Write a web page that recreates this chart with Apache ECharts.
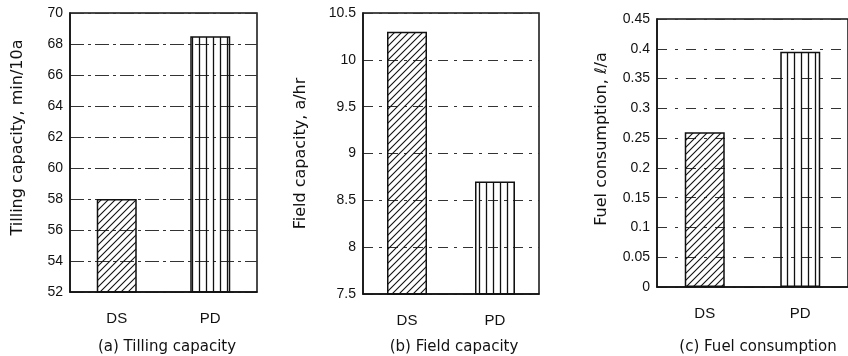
<!DOCTYPE html>
<html>
<head>
<meta charset="utf-8">
<script src="https://cdn.jsdelivr.net/npm/echarts@6/dist/echarts.min.js"></script>
<style>
  html, body { margin: 0; padding: 0; background: #fff; }
  #chart { width: 848px; height: 356px; }
</style>
</head>
<body>
<div id="chart"></div>
<script>
const categories = ["DS", "PD"];
const tillingCapacity = [58, 68.5];
const fieldCapacity = [10.3, 8.7];
const fuelConsumption = [0.26, 0.395];

const tillingTicks = { min: 52, max: 70, interval: 2 };
const fieldTicks = { min: 7.5, max: 10.5, interval: 0.5 };
const fuelTicks = { min: 0, max: 0.45, interval: 0.05 };

const FONT = "Liberation Sans, Arial, sans-serif";
const WIDE = "DejaVu Sans, sans-serif";
const INK = "#111";

// hatch fills: diagonal for DS, vertical stripes for PD
function makePattern(kind) {
  const c = document.createElement("canvas");
  const g = c.getContext("2d");
  if (kind === "diag") {
    c.width = 7;
    c.height = 7;
    g.strokeStyle = INK;
    g.lineWidth = 1.1;
    g.beginPath();
    g.moveTo(-1, 8); g.lineTo(8, -1);
    g.moveTo(-1, 1); g.lineTo(1, -1);
    g.moveTo(6, 8); g.lineTo(8, 6);
    g.stroke();
  } else {
    c.width = 7;
    c.height = 4;
    g.strokeStyle = INK;
    g.lineWidth = 1.3;
    g.beginPath();
    g.moveTo(3.5, 0); g.lineTo(3.5, 4);
    g.stroke();
  }
  return { image: c, repeat: "repeat" };
}

const diag = makePattern("diag");
const vert = makePattern("vert");

const panels = [
  {
    grid: { left: 70, top: 13, width: 187, height: 279 },
    ticks: tillingTicks,
    values: tillingCapacity,
    name: "Tilling capacity, min/10a",
    nameGap: 44,
    namePad: [0, 0, 0, 30],
    dash: [14, 4, 3, 4],
    title: "(a) Tilling capacity",
    titleX: 162,
  },
  {
    grid: { left: 363, top: 13, width: 176, height: 281 },
    ticks: fieldTicks,
    values: fieldCapacity,
    name: "Field capacity, a/hr",
    nameGap: 54,
    namePad: [0, 0, 0, 0],
    dash: [10, 6, 3, 6],
    title: "(b) Field capacity",
    titleX: 449,
  },
  {
    grid: { left: 657, top: 19, width: 198, height: 268 },
    ticks: fuelTicks,
    values: fuelConsumption,
    name: "Fuel consumption, \u2113/a",
    nameGap: 47,
    namePad: [0, 0, 0, 28],
    dash: [10, 8, 3, 8],
    title: "(c) Fuel consumption",
    titleX: 753,
  },
];

const option = {
  animation: false,
  backgroundColor: "#fff",
  title: panels.map((p) => ({
    text: p.title,
    left: p.titleX,
    top: 335,
    textAlign: "center",
    textStyle: { fontFamily: WIDE, fontSize: 15, fontWeight: "normal", color: INK },
  })),
  grid: panels.map((p) => ({
    ...p.grid,
    show: true,
    borderColor: INK,
    borderWidth: 1.5,
    backgroundColor: "transparent",
  })),
  xAxis: panels.map((p, i) => ({
    type: "category",
    gridIndex: i,
    data: categories,
    axisTick: { show: false },
    axisLine: { show: true, lineStyle: { color: INK, width: 1.5 } },
    axisLabel: { margin: 19, fontFamily: FONT, fontSize: 15, color: INK },
  })),
  yAxis: panels.map((p, i) => ({
    type: "value",
    gridIndex: i,
    min: p.ticks.min,
    max: p.ticks.max,
    interval: p.ticks.interval,
    name: p.name,
    nameLocation: "middle",
    nameGap: p.nameGap,
    nameTextStyle: {
      fontFamily: WIDE,
      fontSize: 16,
      color: INK,
      padding: p.namePad,
    },
    axisTick: { show: false },
    axisLine: { show: true, lineStyle: { color: INK, width: 1.5 } },
    axisLabel: { margin: 7, fontFamily: FONT, fontSize: 14, color: INK },
    splitLine: {
      show: true,
      lineStyle: { color: "#333", width: 1, type: p.dash },
    },
  })),
  series: panels.map((p, i) => ({
    type: "bar",
    xAxisIndex: i,
    yAxisIndex: i,
    barWidth: 40,
    silent: true,
    data: p.values.map((v, j) => ({
      value: v,
      itemStyle: {
        color: j === 0 ? diag : vert,
        borderColor: INK,
        borderWidth: 1.5,
      },
    })),
  })),
};

const chart = echarts.init(document.getElementById("chart"), null, { renderer: "canvas" });
chart.setOption(option);
</script>
</body>
</html>
